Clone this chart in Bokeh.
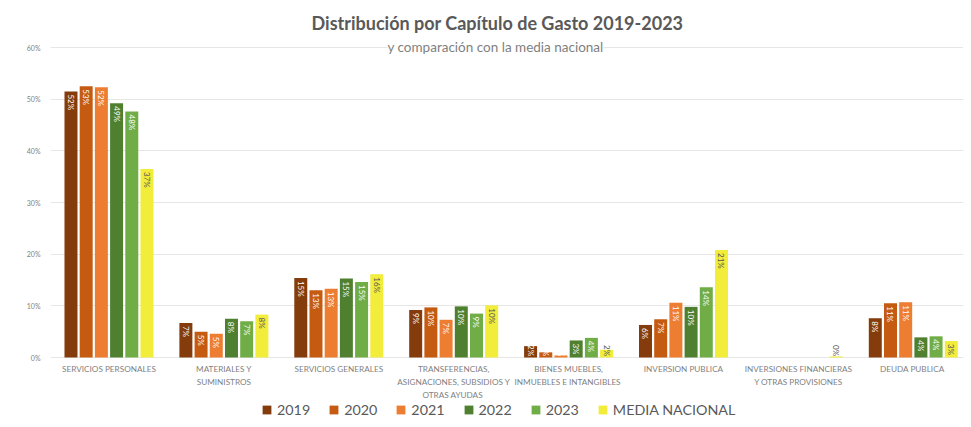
import math
from bokeh.plotting import figure
from bokeh.models import (ColumnDataSource, Range1d, FixedTicker, Label, Legend,
                          LegendItem, PrintfTickFormatter)
from bokeh.transform import dodge
from bokeh.core.properties import value
from bokeh.embed import file_html
from bokeh.resources import INLINE

categories = [
    "SERVICIOS PERSONALES",
    "MATERIALES Y\nSUMINISTROS",
    "SERVICIOS GENERALES",
    "TRANSFERENCIAS,\nASIGNACIONES, SUBSIDIOS Y\nOTRAS  AYUDAS",
    "BIENES MUEBLES,\nINMUEBLES E  INTANGIBLES",
    "INVERSION PUBLICA",
    "INVERSIONES FINANCIERAS\nY OTRAS PROVISIONES",
    "DEUDA  PUBLICA",
]
series_names = ["2019", "2020", "2021", "2022", "2023", "MEDIA NACIONAL"]
v2019 = [51.5, 6.7, 15.4, 9.2, 2.2, 6.3, 0.0, 7.6]
v2020 = [52.5, 5.0, 13.0, 9.7, 1.0, 7.4, 0.0, 10.5]
v2021 = [52.3, 4.6, 13.3, 7.3, 0.4, 10.6, 0.0, 10.7]
v2022 = [49.2, 7.5, 15.3, 9.9, 3.3, 9.8, 0.0, 3.9]
v2023 = [47.6, 7.0, 14.6, 8.5, 3.8, 13.6, 0.0, 4.1]
media = [36.5, 8.3, 16.1, 10.1, 1.5, 20.8, 0.2, 3.2]
y_ticks = [0, 10, 20, 30, 40, 50, 60]

series_values = [v2019, v2020, v2021, v2022, v2023, media]
colors = ["#843C0C", "#C55A11", "#ED7D31", "#4E8030", "#70AD47", "#F2EC3A"]
label_colors = ["white", "white", "white", "white", "white", "#555555"]

FONT = "Lato"
GRAY = "#7f7f7f"

p = figure(width=963, height=419, output_backend="svg", toolbar_location=None,
           x_range=Range1d(-0.509, 7.437), y_range=Range1d(-12.0, 66.97),
           x_axis_location=None,
           min_border_left=50, min_border_right=0, min_border_top=11,
           min_border_bottom=0)
p.outline_line_color = None
p.xgrid.grid_line_color = None
p.ygrid.grid_line_color = "#e6e6e6"
p.ygrid.ticker = FixedTicker(ticks=y_ticks)

p.yaxis.ticker = FixedTicker(ticks=y_ticks)
p.yaxis.formatter = PrintfTickFormatter(format="%d%%")
p.yaxis.axis_line_color = None
p.yaxis.major_tick_line_color = None
p.yaxis.minor_tick_line_color = None
p.yaxis.major_label_text_font = FONT
p.yaxis.major_label_text_font_size = "7px"
p.yaxis.major_label_text_color = GRAY
p.yaxis.major_label_standoff = 4

# category labels under the baseline
cat_src = ColumnDataSource(dict(x=list(range(len(categories))),
                                y=[0] * len(categories), text=categories))
p.text(x="x", y="y", text="text", source=cat_src, text_align="center",
       text_baseline="top", y_offset=6, text_font=value(FONT),
       text_font_size="8.2px", text_color=GRAY, text_line_height=1.3)

pitch = 0.1323
bw = 0.113
items = []
for k, (name, vals) in enumerate(zip(series_names, series_values)):
    off = (k - 2.5) * pitch
    labels = [f"{int(v + 0.5)}%" if v > 0 else "" for v in vals]
    label_y = [max(v, 3.0) for v in vals]
    src = ColumnDataSource(dict(x=list(range(len(categories))), top=vals,
                                label=labels, label_y=label_y))
    r = p.vbar(x=dodge("x", off, range=p.x_range), top="top", width=bw,
               source=src, fill_color=colors[k], line_color=None)
    p.text(x=dodge("x", off, range=p.x_range), y="label_y", text="label",
           source=src, angle=-math.pi / 2, text_align="left",
           text_baseline="middle", y_offset=3, text_font=value(FONT),
           text_font_size="8px", text_color=label_colors[k])
    items.append(LegendItem(label=name, renderers=[r]))

legend = Legend(items=items, orientation="horizontal", location=(211, 1),
                glyph_width=11, glyph_height=11, label_standoff=5, spacing=18,
                padding=0, margin=0, border_line_color=None,
                background_fill_alpha=0, label_text_font=FONT,
                label_text_font_size="14.3px", label_text_color="#595959")
p.add_layout(legend, "center")

p.add_layout(Label(x=3.381, y=64.8, text="Distribución por Capítulo de Gasto 2019-2023",
                   text_align="center", text_baseline="middle", text_font=FONT,
                   text_font_style="bold", text_font_size="18px",
                   text_color="#595959"))
p.add_layout(Label(x=3.364, y=60.1, text="y comparación con la media nacional",
                   text_align="center", text_baseline="middle", text_font=FONT,
                   text_font_size="13.5px", text_color=GRAY,
                   background_fill_color="white"))

open("out.html", "w").write(file_html(p, INLINE))
